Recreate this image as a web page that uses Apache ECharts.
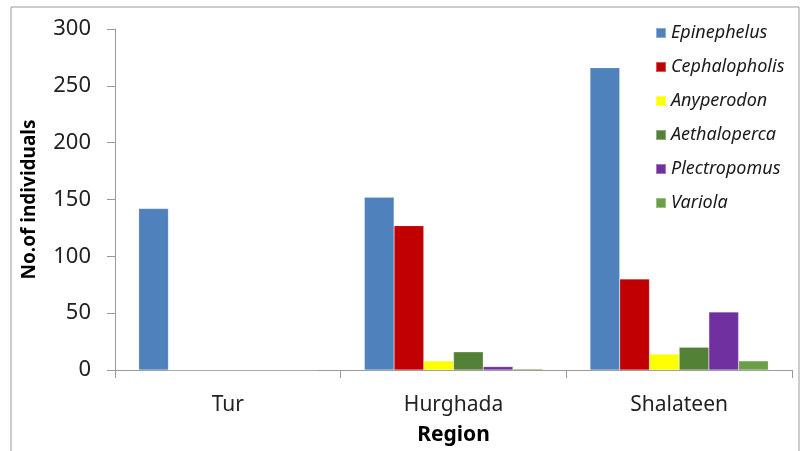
<!DOCTYPE html>
<html>
<head>
<meta charset="utf-8">
<script src="https://cdn.jsdelivr.net/npm/echarts@6/dist/echarts.min.js"></script>
<style>
  html, body { margin: 0; padding: 0; background: #fff; }
  #main { width: 804px; height: 451px; }
</style>
</head>
<body>
<div id="main"></div>
<script>
// data
var regions = ['Tur', 'Hurghada', 'Shalateen'];
var genera = ['Epinephelus', 'Cephalopholis', 'Anyperodon', 'Aethaloperca', 'Plectropomus', 'Variola'];
var epinephelus   = [142, 152, 266];
var cephalopholis = [0, 127, 80];
var anyperodon    = [0, 8, 14];
var aethaloperca  = [0, 16, 20];
var plectropomus  = [0, 3, 51];
var variola       = [0, 1, 8];
var colors = ['#4f81bd', '#c00000', '#ffff00', '#538135', '#7030a0', '#6a9f45'];

var values = [epinephelus, cephalopholis, anyperodon, aethaloperca, plectropomus, variola];
var series = [];
for (var i = 0; i < genera.length; i++) {
    series.push({
        name: genera[i],
        type: 'bar',
        data: values[i],
        barGap: 0,
        barCategoryGap: '21%',
        itemStyle: { color: colors[i], borderColor: 'rgba(255,255,255,0.35)', borderWidth: 0.5 }
    });
}

var myChart = echarts.init(document.getElementById('main'));
var option = {
    animation: false,
    color: colors,
    graphic: [{
        type: 'rect',
        shape: { x: 11, y: 7, width: 788, height: 450 },
        style: { fill: 'none', stroke: '#9a9a9a', lineWidth: 1 },
        silent: true
    }],
    legend: {
        orient: 'vertical',
        left: 650,
        top: 19,
        itemWidth: 10,
        itemHeight: 10,
        itemGap: 16,
        icon: 'rect',
        data: genera,
        textStyle: { fontFamily: 'Noto Sans', fontStyle: 'italic', fontSize: 18, color: '#1a1a1a' }
    },
    grid: { left: 115, right: 12, top: 29, bottom: 80 },
    xAxis: {
        type: 'category',
        data: regions,
        name: 'Region',
        nameLocation: 'middle',
        nameGap: 55,
        nameTextStyle: { fontFamily: 'Noto Sans', fontWeight: 'bold', fontSize: 21, color: '#000' },
        axisLine: { lineStyle: { color: '#9a9a9a', width: 1 } },
        axisTick: { show: true, length: 8, lineStyle: { color: '#9a9a9a' } },
        axisLabel: { fontFamily: 'Noto Sans', fontSize: 21, color: '#222', margin: 25 }
    },
    yAxis: {
        type: 'value',
        min: 0,
        max: 300,
        interval: 50,
        name: 'No.of individuals',
        nameLocation: 'middle',
        nameGap: 76,
        nameTextStyle: { fontFamily: 'Noto Sans', fontWeight: 'bold', fontSize: 19, color: '#000' },
        axisLine: { show: true, lineStyle: { color: '#9a9a9a', width: 1 } },
        axisTick: { show: true, length: 8, lineStyle: { color: '#9a9a9a' } },
        splitLine: { show: false },
        axisLabel: { fontFamily: 'Noto Sans', fontSize: 22, color: '#222', margin: 24 }
    },
    series: series
};
myChart.setOption(option);
window.onresize = myChart.resize;
</script>
</body>
</html>
